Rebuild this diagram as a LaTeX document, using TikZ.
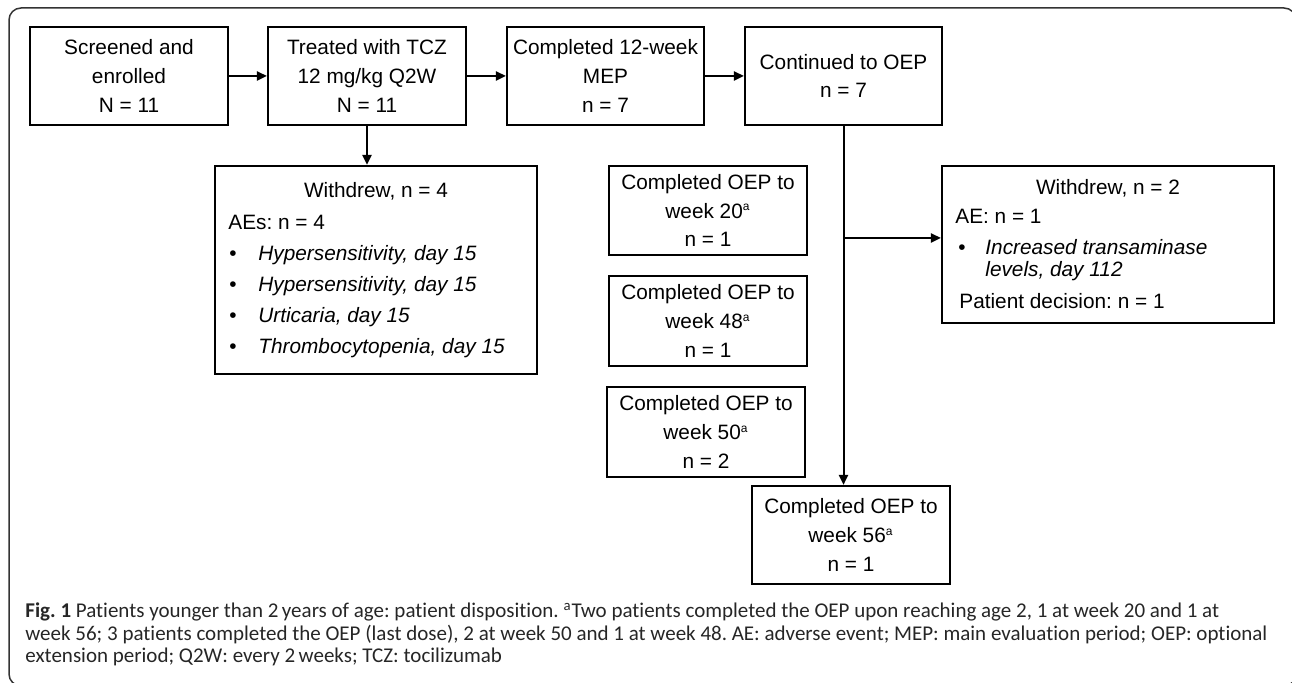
\documentclass[tikz,border=0pt]{standalone}
\usepackage{fontspec}
\setmainfont{Liberation Sans}
\newfontfamily\capfont[Ligatures=NoCommon]{Carlito}
\usetikzlibrary{arrows.meta,positioning}
\frenchspacing
\newcommand{\supa}{\textsuperscript{\fontsize{6}{6}\selectfont a}}
\tikzset{
  box/.style 2 args = {draw, line width=1.1pt, align=center, inner sep=0pt,
                minimum width=#1*0.5pt, minimum height=#2*0.5pt,
                font=\fontsize{10.4}{14.4}\selectfont},
  flow/.style = {line width=1pt, -{Triangle[length=5pt,width=4.6pt]}},
  txt/.style = {anchor=base west, inner sep=0pt, font=\fontsize{10.4}{12}\selectfont},
  captxt/.style = {anchor=base west, inner sep=0pt, text=black!85,
                font=\capfont\fontsize{10.5}{11}\selectfont}
}

\begin{document}
\begin{tikzpicture}[x=0.5pt,y=-0.5pt]
	\useasboundingbox (0,0) rectangle (1292,683);
	\clip (0,0) rectangle (1292,683);

	% Frame
	\draw[line width=0.75pt, black!80, rounded corners=6pt] (9,8) rectangle (1296,686);

	% Main line
	\node[box={198}{98}] (scr) at (129,76) {Screened and\\enrolled\\N = 11};
	\node[box={198}{98}] (tcz) at (367,76) {Treated with TCZ\\12 mg/kg Q2W\\N = 11};
	\node[box={197}{98}] (mep) at (605.5,76) {Completed 12-week\\MEP\\n = 7};
	\node[box={197}{98}] (oep) at (843.5,76) {Continued to OEP\\n = 7};

	% Withdrew during MEP
	\node[box={322}{208}] (wd1) at (376,270) {};
	\node[txt, anchor=base] (wd1h) at (376,198) {Withdrew, n = 4};
	\node[txt] (wd1ae) at (228,230) {AEs: n = 4};
	\foreach \ev [count=\i] in {{Hypersensitivity, day 15},{Hypersensitivity, day 15},
	                            {Urticaria, day 15},{Thrombocytopenia, day 15}} {
		\node[txt, anchor=base] (b\i) at (233,230+31*\i) {\textbullet};
		\node[txt] (ev\i) at (258,230+31*\i) {\textit{\ev}};
	}

	% Completed OEP
	\node[box={198}{89}] (c20) at (708,210.5) {Completed OEP to\\week 20\supa\\n = 1};
	\node[box={198}{90}] (c48) at (708,321) {Completed OEP to\\week 48\supa\\n = 1};
	\node[box={198}{90}] (c50) at (706,432) {Completed OEP to\\week 50\supa\\n = 2};
	\node[box={198}{98}] (c56) at (851,535) {Completed OEP to\\week 56\supa\\n = 1};

	% Withdrew during OEP
	\node[box={332}{157}] (wd2) at (1108,244.5) {};
	\node[txt, anchor=base] (wd2h) at (1108,195) {Withdrew, n = 2};
	\node[txt] (wd2ae) at (955,224) {AE: n = 1};
	\node[txt, anchor=base] (b5) at (962,255) {\textbullet};
	\node[txt] (ev5) at (985,255) {\textit{Increased transaminase}};
	\node[txt] (ev5b) at (985,277) {\textit{levels, day 112}};
	\node[txt] (wd2pd) at (959,309) {Patient decision: n = 1};

	% Arrows
	\draw[flow] (scr) -- (tcz);
	\draw[flow] (tcz) -- (mep);
	\draw[flow] (mep) -- (oep);
	\draw[flow] (tcz.south) -- (tcz.south |- wd1.north);
	\draw[flow] (oep.south) -- (oep.south |- c56.north);
	\coordinate (split) at (843.5,238);
	\draw[flow] (split) -- (split -| wd2.west);

	% Caption
	\node[captxt] (cap1) at (25,618) {\textbf{Fig. 1} Patients younger than 2\,years of age: patient disposition. \textsuperscript{a}Two patients completed the OEP upon reaching age 2, 1 at week 20 and 1 at};
	\node[captxt] (cap2) at (25,640.5) {week 56; 3 patients completed the OEP (last dose), 2 at week 50 and 1 at week 48. AE: adverse event; MEP: main evaluation period; OEP: optional};
	\node[captxt] (cap3) at (25,663) {extension period; Q2W: every 2\,weeks; TCZ: tocilizumab};
\end{tikzpicture}
\end{document}
